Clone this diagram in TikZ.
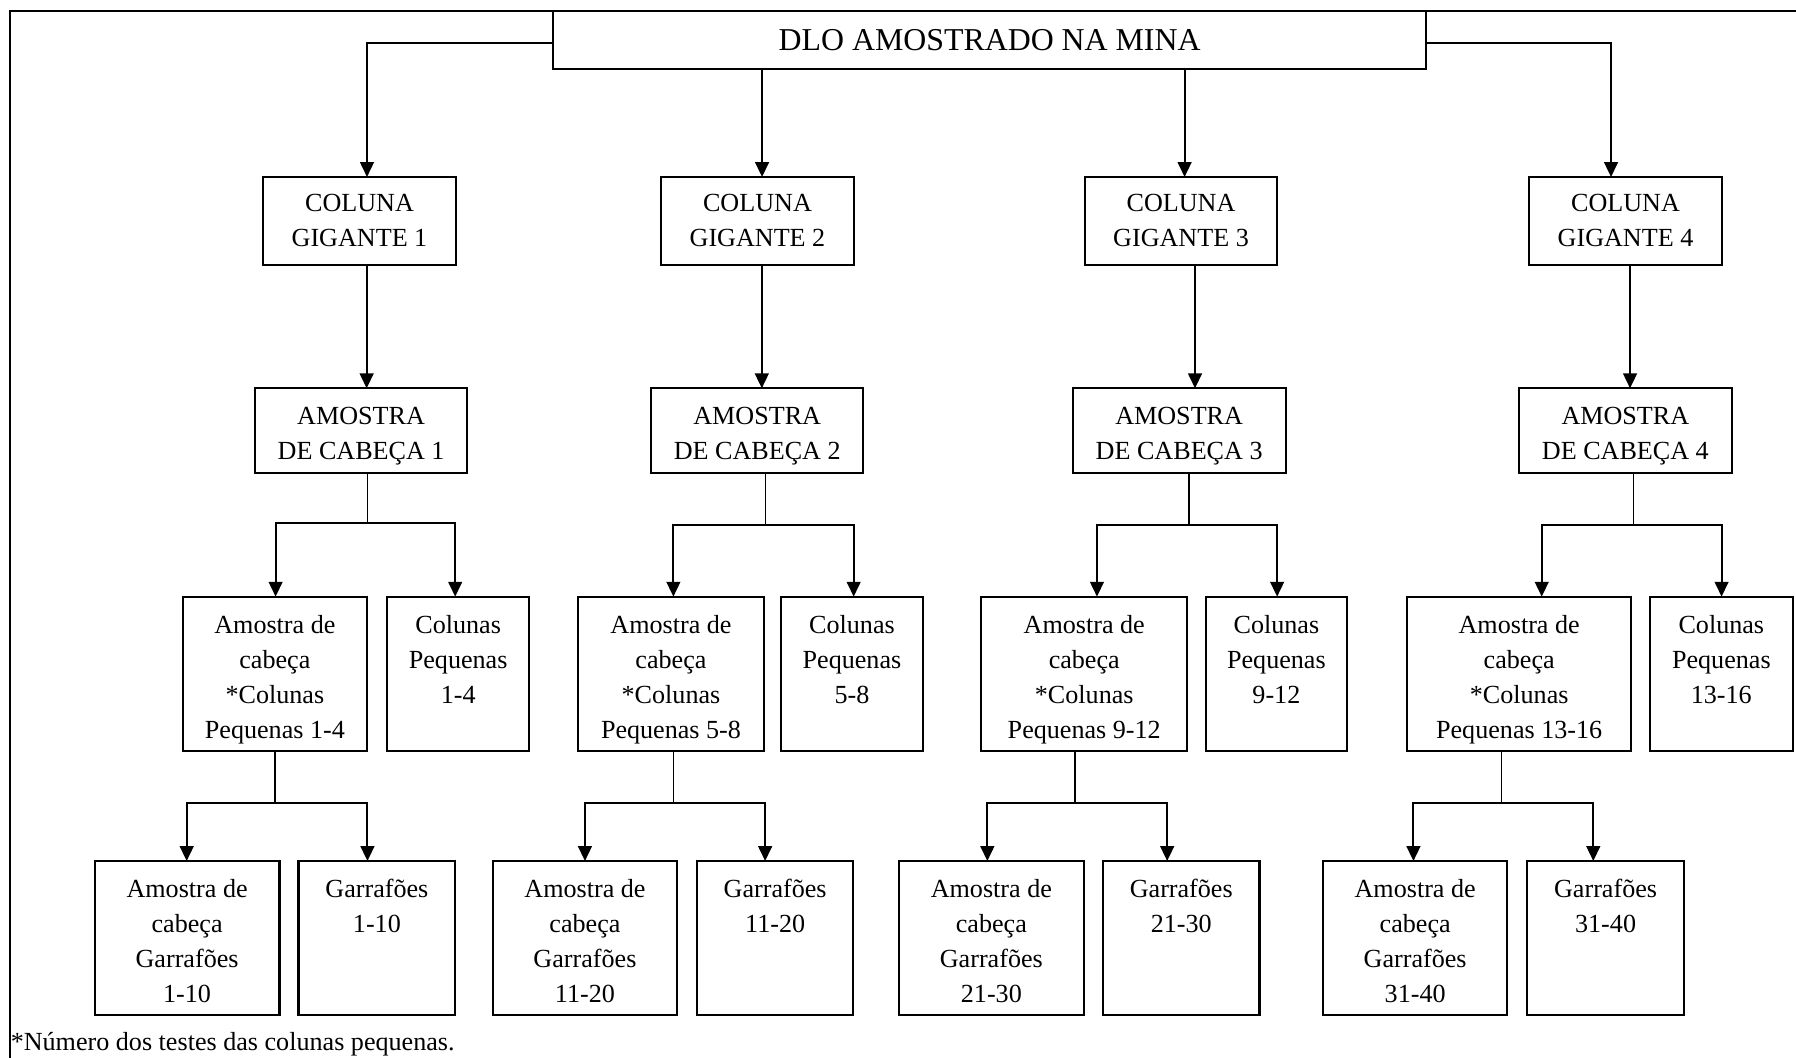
\documentclass[tikz,border=0pt]{standalone}
\usepackage{fontspec}
\setmainfont{Liberation Serif}
\usetikzlibrary{fit,arrows.meta}

\newcommand\boxfont{\fontsize{11.4}{15.3}\selectfont}
\newcommand\titlefont{\fontsize{13.9}{16}\selectfont}

\tikzset{
  box/.style={draw, line width=0.9pt, inner sep=0pt, outer sep=0pt},
  lbl/.style={inner sep=0pt, outer sep=0pt, font=\boxfont, align=center, anchor=north},
  arr/.style={line width=0.9pt, -{Triangle[width=6pt,length=6.5pt]}},
  stem/.style={line width=0.55pt},
  frame/.style={line width=0.8pt},
}

\begin{document}
\begin{tikzpicture}[x=0.5pt, y=-0.5pt]
\useasboundingbox (0,0) rectangle (1568,923);

% outer frame (top and left edges)
\draw[frame] (9,940) -- (9,9.3) -- (1590,9.3);

% root
\node[box, fit={(483,9.3) (1245,60.2)}] (top) {};
\node[inner sep=0pt, font=\titlefont, anchor=base] (toptext) at (864,44.5) {DLO AMOSTRADO NA MINA};

% giant columns
\node[box, fit={(229.6,154.5) (398.1,231.4)}] (g1) {};
\node[box, fit={(577,154.5) (745.6,231.4)}] (g2) {};
\node[box, fit={(947.3,154.5) (1114.9,231.4)}] (g3) {};
\node[box, fit={(1334.9,154.5) (1503.4,231.4)}] (g4) {};
\node[lbl] (g1t) at ([yshift=-7.7pt]g1.north) {COLUNA\\GIGANTE 1};
\node[lbl] (g2t) at ([yshift=-7.7pt]g2.north) {COLUNA\\GIGANTE 2};
\node[lbl] (g3t) at ([yshift=-7.7pt]g3.north) {COLUNA\\GIGANTE 3};
\node[lbl] (g4t) at ([yshift=-7.7pt]g4.north) {COLUNA\\GIGANTE 4};

% head samples
\node[box, fit={(222.5,339) (408,413)}] (a1) {};
\node[box, fit={(568.4,339) (753.8,413)}] (a2) {};
\node[box, fit={(936.4,339) (1122.5,413)}] (a3) {};
\node[box, fit={(1326,339) (1512,413)}] (a4) {};
\node[lbl] (a1t) at ([yshift=-8.3pt]a1.north) {AMOSTRA\\DE CABEÇA 1};
\node[lbl] (a2t) at ([yshift=-8.3pt]a2.north) {AMOSTRA\\DE CABEÇA 2};
\node[lbl] (a3t) at ([yshift=-8.3pt]a3.north) {AMOSTRA\\DE CABEÇA 3};
\node[lbl] (a4t) at ([yshift=-8.3pt]a4.north) {AMOSTRA\\DE CABEÇA 4};

% third level
\node[box, fit={(159.4,520.9) (320.6,655.5)}] (h1) {};
\node[box, fit={(338,520.9) (462,655.5)}] (c1) {};
\node[box, fit={(505,520.9) (666.6,655.5)}] (h2) {};
\node[box, fit={(681.6,520.9) (806,655.5)}] (c2) {};
\node[box, fit={(856.5,520.9) (1036.7,655.5)}] (h3) {};
\node[box, fit={(1052.7,520.9) (1176,655.5)}] (c3) {};
\node[box, fit={(1228.6,520.9) (1424,655.5)}] (h4) {};
\node[box, fit={(1440.6,520.9) (1565,655.5)}] (c4) {};

\node[lbl] (h1t) at ([yshift=-8pt]h1.north) {Amostra de\\cabeça\\*Colunas\\Pequenas 1-4};
\node[lbl] (c1t) at ([yshift=-8pt]c1.north) {Colunas\\Pequenas\\1-4};
\node[lbl] (h2t) at ([yshift=-8pt]h2.north) {Amostra de\\cabeça\\*Colunas\\Pequenas 5-8};
\node[lbl] (c2t) at ([yshift=-8pt]c2.north) {Colunas\\Pequenas\\5-8};
\node[lbl] (h3t) at ([yshift=-8pt]h3.north) {Amostra de\\cabeça\\*Colunas\\Pequenas 9-12};
\node[lbl] (c3t) at ([yshift=-8pt]c3.north) {Colunas\\Pequenas\\9-12};
\node[lbl] (h4t) at ([yshift=-8pt]h4.north) {Amostra de\\cabeça\\*Colunas\\Pequenas 13-16};
\node[lbl] (c4t) at ([yshift=-8pt]c4.north) {Colunas\\Pequenas\\13-16};

% fourth level
\node[box, fit={(82.7,751.7) (244,886.2)}] (b1) {};
\node[box, fit={(260.6,751.7) (397.5,886.2)}] (f1) {};
\node[box, fit={(430,751.7) (591.4,886.2)}] (b2) {};
\node[box, fit={(608.5,751.7) (745,886.2)}] (f2) {};
\node[box, fit={(785,751.7) (946,886.2)}] (b3) {};
\node[box, fit={(963,751.7) (1099.6,886.2)}] (f3) {};
\node[box, fit={(1155,751.7) (1316,886.2)}] (b4) {};
\node[box, fit={(1333.5,751.7) (1470,886.2)}] (f4) {};

\node[lbl] (b1t) at ([yshift=-8pt]b1.north) {Amostra de\\cabeça\\Garrafões\\1-10};
\node[lbl] (f1t) at ([yshift=-8pt]f1.north) {Garrafões\\1-10};
\node[lbl] (b2t) at ([yshift=-8pt]b2.north) {Amostra de\\cabeça\\Garrafões\\11-20};
\node[lbl] (f2t) at ([yshift=-8pt]f2.north) {Garrafões\\11-20};
\node[lbl] (b3t) at ([yshift=-8pt]b3.north) {Amostra de\\cabeça\\Garrafões\\21-30};
\node[lbl] (f3t) at ([yshift=-8pt]f3.north) {Garrafões\\21-30};
\node[lbl] (b4t) at ([yshift=-8pt]b4.north) {Amostra de\\cabeça\\Garrafões\\31-40};
\node[lbl] (f4t) at ([yshift=-8pt]f4.north) {Garrafões\\31-40};

% root -> giant columns
\draw[arr] (top.west |- 0,37.3) -| (g1.north -| 320.4,0);
\draw[arr] (top.south -| 665.3,0) -- (g2.north -| 665.3,0);
\draw[arr] (top.south -| 1034.2,0) -- (g3.north -| 1034.2,0);
\draw[arr] (top.east |- 0,37.3) -| (g4.north -| 1406.5,0);

% giant columns -> head samples
\draw[arr] (g1.south -| 320.1,0) -- (a1.north -| 320.1,0);
\draw[arr] (g2.south -| 665.1,0) -- (a2.north -| 665.1,0);
\draw[arr] (g3.south -| 1043.3,0) -- (a3.north -| 1043.3,0);
\draw[arr] (g4.south -| 1423.1,0) -- (a4.north -| 1423.1,0);

% head samples -> third level
\coordinate (j1) at (320.8,456.5);
\coordinate (j2) at (668.6,458);
\coordinate (j3) at (1038,458);
\coordinate (j4) at (1426.3,458);
\draw[stem] (a1.south -| j1) -- (j1);
\draw[stem] (a2.south -| j2) -- (j2);
\draw[stem] (a3.south -| j3) -- (j3);
\draw[stem] (a4.south -| j4) -- (j4);
\draw[arr] (j1) -| (h1.north -| 240.6,0);
\draw[arr] (j1) -| (c1.north -| 397.4,0);
\draw[arr] (j2) -| (h2.north -| 587.9,0);
\draw[arr] (j2) -| (c2.north -| 745.3,0);
\draw[arr] (j3) -| (h3.north -| 957.7,0);
\draw[arr] (j3) -| (c3.north -| 1115,0);
\draw[arr] (j4) -| (h4.north -| 1346,0);
\draw[arr] (j4) -| (c4.north -| 1503,0);

% third level -> fourth level
\coordinate (k1) at (240,700.8);
\coordinate (k2) at (588,700.8);
\coordinate (k3) at (938.6,700.8);
\coordinate (k4) at (1311,700.8);
\draw[stem] (h1.south -| k1) -- (k1);
\draw[stem] (h2.south -| k2) -- (k2);
\draw[stem] (h3.south -| k3) -- (k3);
\draw[stem] (h4.south -| k4) -- (k4);
\draw[arr] (k1) -| (b1.north -| 163,0);
\draw[arr] (k1) -| (f1.north -| 320.8,0);
\draw[arr] (k2) -| (b2.north -| 510.7,0);
\draw[arr] (k2) -| (f2.north -| 668,0);
\draw[arr] (k3) -| (b3.north -| 862,0);
\draw[arr] (k3) -| (f3.north -| 1019,0);
\draw[arr] (k4) -| (b4.north -| 1234,0);
\draw[arr] (k4) -| (f4.north -| 1391,0);

% footnote
\node[inner sep=0pt, font=\boxfont, anchor=base west] (note) at (9,917) {*Número dos testes das colunas pequenas.};
\end{tikzpicture}
\end{document}
